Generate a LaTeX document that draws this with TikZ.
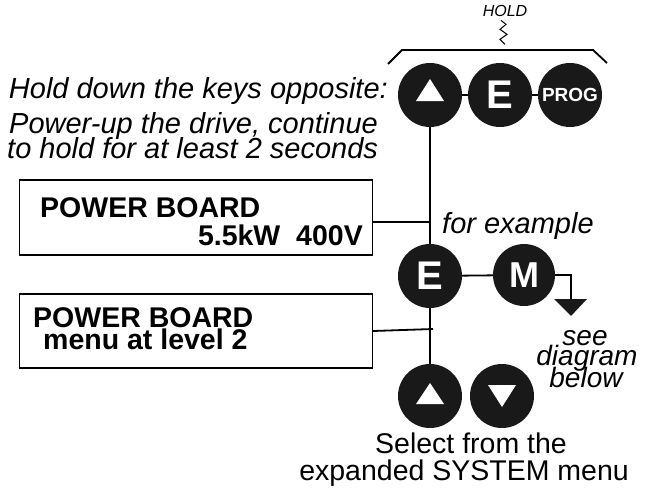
\documentclass[tikz,border=0pt]{standalone}
\usepackage{fontspec}
\setmainfont{Liberation Sans}
\begin{document}
\begin{tikzpicture}[x=1pt,y=-1pt,
  key/.style={circle,fill=black!90,minimum size=64pt,inner sep=0pt,text=white,font=\bfseries},
  lcd/.style={draw,line width=1.3pt,minimum width=353pt,inner sep=0pt},
  wire/.style={line width=1.8pt},
  itxt/.style={font=\fontsize{29}{30}\selectfont\itshape,inner sep=0pt},
  ntxt/.style={font=\fontsize{28.5}{30}\selectfont,inner sep=0pt},
  btxt/.style={font=\fontsize{28.5}{30}\selectfont\bfseries,inner sep=0pt},
  seetxt/.style={font=\fontsize{28}{21}\selectfont\itshape,anchor=base,inner sep=0pt}]
\useasboundingbox (0,0) rectangle (645,490);
% top keys
\node[key] (u1) at (430,95) {};
\node[key,font=\fontsize{40}{40}\selectfont\bfseries] (e1) at (500,95) {E};
\node[key,font=\fontsize{19}{19}\selectfont\bfseries] (prog) at (570,95) {PROG};
\fill[white] (416,101) -- (444,101) -- (430,79) -- cycle;
\draw[wire] (u1) -- (e1) (e1) -- (prog);
% bracket and hold
\draw[wire] (388,64) -- (402,50) -- (593,50) -- (607,63);
\node[font=\fontsize{16}{16}\selectfont\itshape,anchor=base,inner sep=0pt] (hold) at (505,16) {HOLD};
\draw[line width=1pt] (hold.south) ++(-4,4) -- ++(5,4) -- ++(-6,5) -- ++(7,5) -- ++(-7,5) -- ++(5,5);
% instructions
\node[itxt,anchor=base east] (t1) at (388,98) {Hold down the keys opposite:};
\node[itxt,anchor=base west] (t2) at (9,133) {Power-up the drive, continue};
\node[itxt,anchor=base west] (t3) at (7,158) {to hold for at least 2 seconds};
% boxes
\node[lcd,minimum height=75pt] (b1) at (196,217.5) {};
\node[btxt,anchor=base west] (b1a) at (40,217) {POWER BOARD};
\node[btxt,anchor=base east] (b1b) at (363,245) {5.5kW\ \ 400V};
\node[lcd,minimum height=74pt] (b2) at (196,331) {};
\node[btxt,anchor=base west] (b2a) at (33,327) {POWER BOARD};
\node[btxt,anchor=base west] (b2b) at (43,349) {menu at level 2};
% middle keys
\node[key,font=\fontsize{40}{40}\selectfont\bfseries] (e2) at (430,276) {E};
\node[key,minimum size=62pt,font=\fontsize{36}{36}\selectfont\bfseries] (m) at (524,275) {M};
\node[itxt,anchor=base west] (fe) at (442,233) {for example};
\draw[wire] (u1.south) -- (e2.north);
\draw[wire] (e2) -- (m);
\draw[wire] (b1.east |- 0,222) -- (430,222);
\draw[wire] (m.east) -- (571,275) coordinate (mc) -- (571,300) coordinate (mt);
\fill[black!90] (mt) ++(-17,-1) -- ++(33,0) -- ++(-16,17) -- cycle;
\node[seetxt] (see1) at (585,345) {see};
\node[seetxt] (see2) at (587,365) {diagram};
\node[seetxt] (see3) at (586,387) {below};
% lower keys
\node[key] (u2) at (430,396) {};
\node[key] (d2) at (502,396) {};
\fill[white] (416,404) -- (444,404) -- (430,383) -- cycle;
\fill[white] (488,385) -- (516,385) -- (502,407) -- cycle;
\draw[wire] (e2.south) -- (u2.north);
\draw[wire] (b2.east) -- (433,329);
\node[ntxt,anchor=base west] (s1) at (375,453) {Select from the};
\node[ntxt,anchor=base east] (s2) at (629,480) {expanded SYSTEM menu};
\end{tikzpicture}
\end{document}
